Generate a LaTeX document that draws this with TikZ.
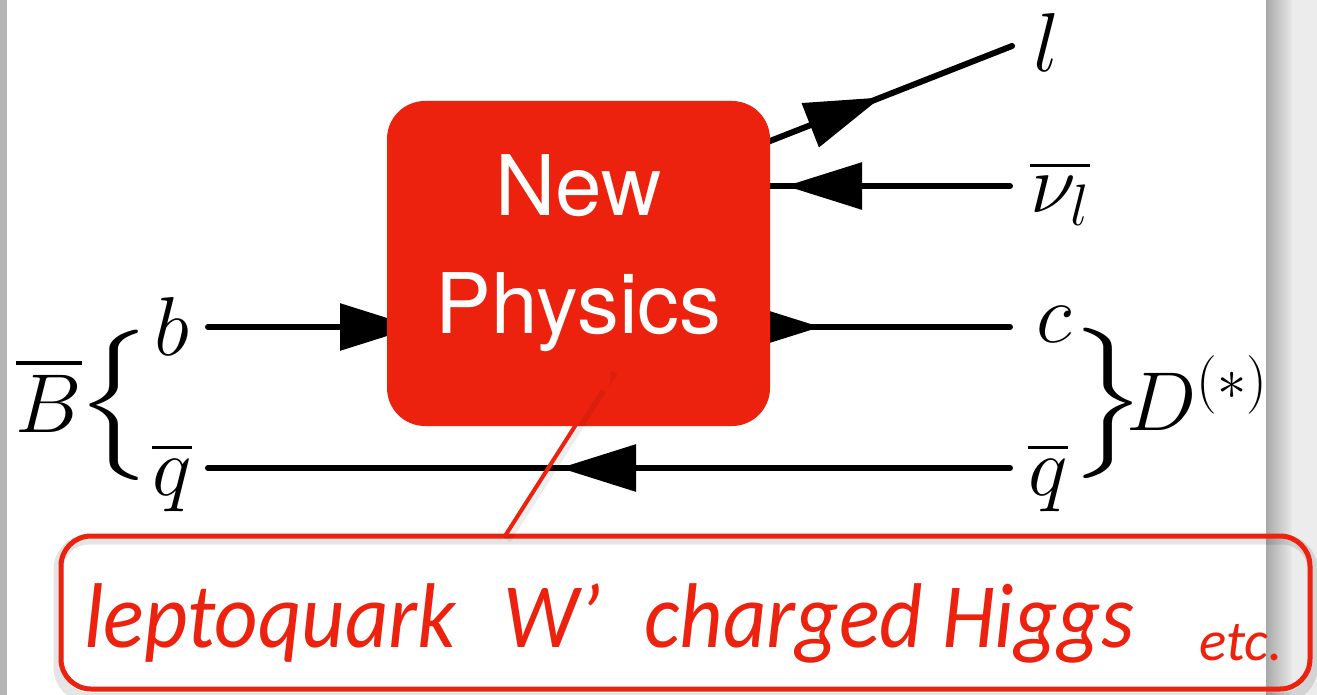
\RequirePackage{fix-cm}
\documentclass[tikz,border=0pt]{standalone}
\usepackage{amsmath}
\usepackage{amssymb}
\usepackage{fontspec}
\newfontfamily\npfont{TeX Gyre Heros}
\newfontfamily\notefont{Carlito}
\newcommand{\narrow}[1]{\scalebox{0.92}[1]{#1}}
\newcommand{\widebrace}[1]{\scalebox{1.35}[1]{#1}}
\usepackage{tikz}
\usetikzlibrary{
    arrows.meta,
    positioning,
    backgrounds,
    decorations.markings
}
\definecolor{npred}{RGB}{237,34,14}
\definecolor{panelgray}{RGB}{236,236,236}

\tikzset{
    lab/.style={inner sep=0pt, font=\fontsize{41.8}{50}\selectfont},
    fline/.style={line width=3pt, line cap=round, postaction={decorate},
        decoration={markings,
        mark=at position #1 with {\arrow{Triangle[length=38pt,width=23pt]}}}},
    npbox/.style={fill=npred, text=white, rounded corners=19pt,
        minimum width=191.5pt, minimum height=162.5pt, align=center,
        font=\npfont\fontsize{41.8}{59}\selectfont, text depth=19pt},
    notebox/.style={draw=npred, line width=2.5pt, rounded corners=15pt,
        minimum width=624.5pt, minimum height=76.5pt},
    notetext/.style={inner sep=0pt, text=npred,
        font=\notefont\itshape\fontsize{46}{50}\selectfont},
    pointer/.style={draw=npred, line width=2pt,
        -{Triangle[length=12pt,width=10pt]}}
}

\begin{document}
\begin{tikzpicture}[x=0.5pt,y=-0.5pt]

\useasboundingbox (0,0) rectangle (1317,695);

% Vertex
\node[npbox] (np) at (578.5,263.5) {New\\Physics};

% B meson side
\node[lab, anchor=base] (b) at (172,355) {$b$};
\node[lab, anchor=base] (qL) at (172,495) {$\overline{q}$};
\node[lab, anchor=base] (Bbar) at (49,432) {$\overline{B}$};
\node[lab] (braceL) at (116,405) {\widebrace{%
    $\left\{\vcenter{\hbox{\vrule height 39pt depth 39pt width 0pt}}\right.$}};

% D meson side
\node[lab, anchor=base] (c) at (1054,343) {$c$};
\node[lab, anchor=base] (qR) at (1048,495) {$\overline{q}$};
\node[lab] (braceR) at (1106,403) {\widebrace{%
    $\left.\vcenter{\hbox{\vrule height 39pt depth 39pt width 0pt}}\right\}$}};
\node[lab, anchor=base west] (D) at (1126,430) {$D^{(*)}$};

% leptons
\node[lab, anchor=base] (l) at (1047,72) {$l$};
\node[lab, anchor=base west] (nu) at (1030,213) {$\overline{\nu_l}$};

\coordinate (bS) at (208,327);
\coordinate (qS) at (208,468);
\coordinate (cE) at (1010,327);
\coordinate (qE) at (1010,468);
\coordinate (nuE) at (1010,186);
\coordinate (lS) at (765,143);
\coordinate (lE) at (1012,46);

% Candidates
\node[notebox] (note) at (685.5,612.5) {};
\node[notetext, anchor=base west] (lq) at (84,647) {\narrow{leptoquark}};
\node[notetext, anchor=base west] (wp) at (503,647) {\narrow{W’}};
\node[notetext, anchor=base west] (higgs) at (644,647) {\narrow{charged Higgs}};
\node[notetext, anchor=base west,
      font=\notefont\itshape\fontsize{28.5}{30}\selectfont] (etc) at (1199,660) {etc.};

\coordinate (ptrFoot) at (505,536);
\coordinate (ptrTip) at (612,368);
\draw[black, opacity=0.07, line width=4pt] ([xshift=1pt,yshift=-2pt]ptrFoot) -- ([xshift=1pt,yshift=-2pt]ptrTip);
\draw[pointer] (ptrFoot) -- (ptrTip);

\begin{scope}[on background layer]
% slide
\fill[white] (0,0) rectangle (1317,695);
\fill[black!29] (0,0) rectangle (7,695);
\shade[left color=black!34, right color=black!9] (1266,0) rectangle (1292,695);
\fill[panelgray] (1292,0) rectangle (1317,695);
\draw[black, opacity=0.1, line width=5pt, rounded corners=15pt]
    ([yshift=-3pt]note.north west) rectangle ([yshift=-3pt]note.south east);

% fermion lines
\draw[fline=104pt] (bS) -- (bS -| np.center);
\draw[fline=121pt] (np.center |- cE) -- (cE);
\draw[fline=225pt] (qE) -- (qS);
\draw[fline=112pt] (nuE) -- (nuE -| np.center);
\draw[fline=62.3pt] (lS) -- (lE);
\end{scope}

\end{tikzpicture}
\end{document}
